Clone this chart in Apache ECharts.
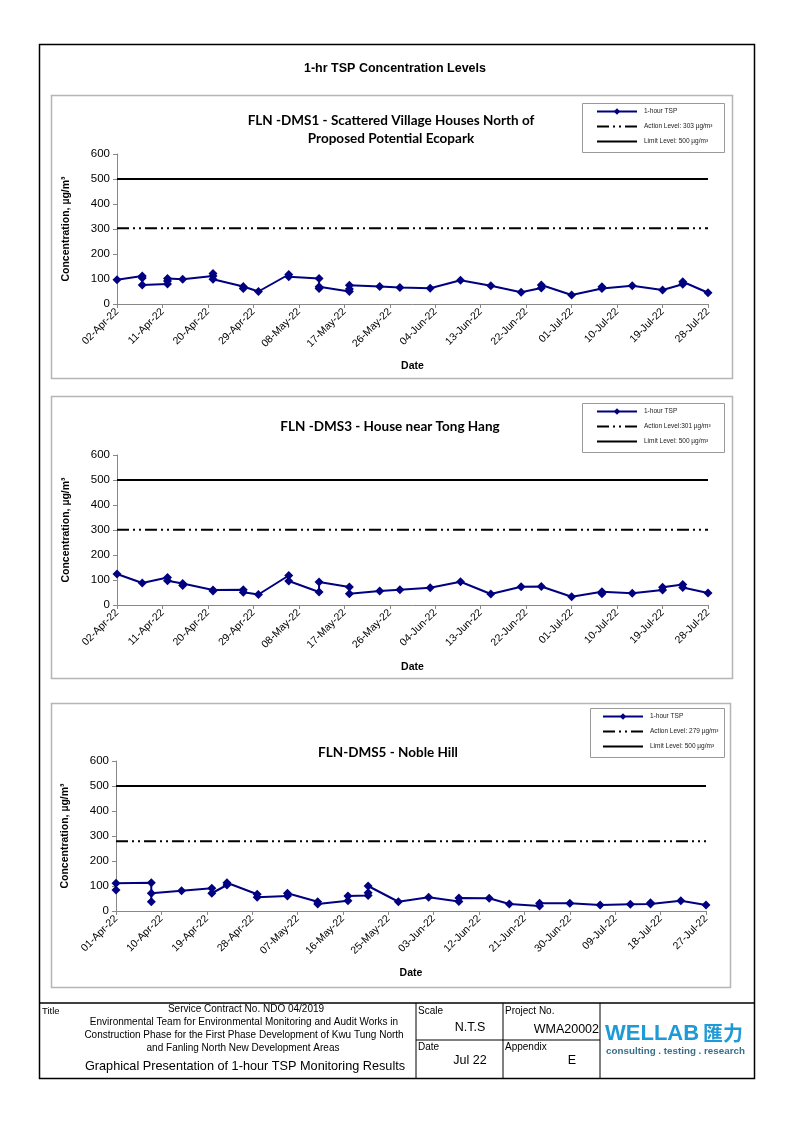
<!DOCTYPE html>
<html><head><meta charset="utf-8">
<script src="https://cdn.jsdelivr.net/npm/echarts@6/dist/echarts.min.js"></script>
<style>html,body{margin:0;padding:0;background:#fff}#c{width:794px;height:1123px}</style>
</head><body><div id="c"></div><script>
// ---- tick labels ----
const ticksA = ['02-Apr-22','11-Apr-22','20-Apr-22','29-Apr-22','08-May-22','17-May-22','26-May-22','04-Jun-22','13-Jun-22','22-Jun-22','01-Jul-22','10-Jul-22','19-Jul-22','28-Jul-22'];
const ticksB = ['01-Apr-22','10-Apr-22','19-Apr-22','28-Apr-22','07-May-22','16-May-22','25-May-22','03-Jun-22','12-Jun-22','21-Jun-22','30-Jun-22','09-Jul-22','18-Jul-22','27-Jul-22'];
const yTicks = [0,100,200,300,400,500,600];

// ---- FLN-DMS1 ----
const dms1Dates = ['2022-04-02','2022-04-07','2022-04-07','2022-04-07','2022-04-12','2022-04-12','2022-04-12','2022-04-15','2022-04-21','2022-04-21','2022-04-21','2022-04-27','2022-04-27','2022-04-30','2022-05-06','2022-05-06','2022-05-12','2022-05-12','2022-05-12','2022-05-18','2022-05-18','2022-05-18','2022-05-24','2022-05-28','2022-06-03','2022-06-09','2022-06-15','2022-06-21','2022-06-25','2022-06-25','2022-07-01','2022-07-07','2022-07-07','2022-07-13','2022-07-19','2022-07-23','2022-07-23','2022-07-28'];
const dms1Values = [97,112,104,76,80,92,102,99,112,122,99,70,62,50,118,109,102,69,62,50,60,75,70,66,63,95,73,47,64,76,36,62,69,73,56,79,89,45];
const dms1Action = 303;

// ---- FLN-DMS3 ----
const dms3Dates = ['2022-04-02','2022-04-07','2022-04-12','2022-04-12','2022-04-15','2022-04-15','2022-04-21','2022-04-21','2022-04-27','2022-04-27','2022-04-30','2022-05-06','2022-05-06','2022-05-12','2022-05-12','2022-05-18','2022-05-18','2022-05-24','2022-05-28','2022-06-03','2022-06-09','2022-06-15','2022-06-21','2022-06-25','2022-07-01','2022-07-07','2022-07-07','2022-07-13','2022-07-19','2022-07-19','2022-07-23','2022-07-23','2022-07-28'];
const dms3Values = [124,88,110,97,86,78,60,56,61,51,42,118,96,52,92,72,45,56,61,69,93,44,73,74,33,53,45,47,60,71,82,70,48];
const dms3Action = 301;

// ---- FLN-DMS5 ----
const dms5Dates = ['2022-04-01','2022-04-01','2022-04-08','2022-04-08','2022-04-08','2022-04-14','2022-04-20','2022-04-20','2022-04-23','2022-04-23','2022-04-29','2022-04-29','2022-05-05','2022-05-05','2022-05-11','2022-05-11','2022-05-17','2022-05-17','2022-05-21','2022-05-21','2022-05-21','2022-05-27','2022-06-02','2022-06-08','2022-06-08','2022-06-14','2022-06-18','2022-06-24','2022-06-24','2022-06-30','2022-07-06','2022-07-12','2022-07-16','2022-07-16','2022-07-22','2022-07-27'];
const dms5Values = [84,111,113,37,71,81,91,71,104,113,67,55,60,71,37,28,41,60,62,73,100,37,55,38,52,51,28,20,31,31,24,27,28,33,41,24];
const dms5Action = 279;

const limitLevel = 500;

function dayOffset(d, start){ return Math.round((Date.parse(d) - Date.parse(start)) / 86400000); }
function pairs(dates, vals, start){ return dates.map((d,i)=>[dayOffset(d,start), vals[i]]); }

const NAVY = '#000080';
const FONT = 'Liberation Sans, Arial, sans-serif';
const NARROW = 'Liberation Sans Narrow, Liberation Sans, Arial, sans-serif';
const TITLEFONT = 'Lato, Carlito, Calibri, sans-serif';

const charts = [
  {top:154, left:117, width:591, ticks:ticksA, start:'2022-04-02', dates:dms1Dates, vals:dms1Values, action:dms1Action, actionName:'Action Level: 303 µg/m³', legendLeft:596, legendTop:108},
  {top:455, left:117, width:591, ticks:ticksA, start:'2022-04-02', dates:dms3Dates, vals:dms3Values, action:dms3Action, actionName:'Action Level:301 µg/m³', legendLeft:596, legendTop:408},
  {top:761, left:116, width:590, ticks:ticksB, start:'2022-04-01', dates:dms5Dates, vals:dms5Values, action:dms5Action, actionName:'Action Level: 279 µg/m³', legendLeft:602, legendTop:713}
];

const grid=[], xAxis=[], yAxis=[], series=[], legend=[];
charts.forEach((c,i)=>{
  grid.push({left:c.left, top:c.top, width:c.width, height:150});
  const maxDay = (c.ticks.length-1)*9;
  xAxis.push({type:'value', gridIndex:i, min:0, max:maxDay, interval:9,
    name:'Date', nameLocation:'middle', nameGap:57,
    nameTextStyle:{fontFamily:FONT, fontWeight:'bold', fontSize:10.5, color:'#000'},
    axisLine:{show:true, lineStyle:{color:'#888', width:1}},
    axisTick:{show:true, length:4, lineStyle:{color:'#888'}},
    splitLine:{show:false},
    axisLabel:{rotate:45, fontSize:10.5, fontFamily:FONT, color:'#000', margin:6,
      formatter:(v)=>c.ticks[Math.round(v/9)]||''}});
  yAxis.push({type:'value', gridIndex:i, min:yTicks[0], max:yTicks[yTicks.length-1], interval:100,
    name:'Concentration, µg/m³', nameLocation:'middle', nameGap:45, nameRotate:90,
    nameTextStyle:{fontFamily:FONT, fontWeight:'bold', fontSize:10.5, color:'#000'},
    axisLine:{show:true, lineStyle:{color:'#888', width:1}},
    axisTick:{show:true, length:4, lineStyle:{color:'#888'}},
    splitLine:{show:false},
    axisLabel:{fontSize:11.5, fontFamily:FONT, color:'#000', margin:7}});
  series.push({name:'1-hour TSP', type:'line', xAxisIndex:i, yAxisIndex:i,
    data:pairs(c.dates, c.vals, c.start), symbol:'diamond', symbolSize:9,
    itemStyle:{color:NAVY}, lineStyle:{color:NAVY, width:2}, z:5, clip:false, animation:false});
  series.push({name:c.actionName, type:'line', xAxisIndex:i, yAxisIndex:i,
    data:[[0,c.action],[maxDay,c.action]], symbol:'none',
    itemStyle:{color:'#000'}, lineStyle:{color:'#000', width:2, type:[12,4,2,4,2,4]}, animation:false});
  series.push({name:'Limit Level: 500 µg/m³', type:'line', xAxisIndex:i, yAxisIndex:i,
    data:[[0,limitLevel],[maxDay,limitLevel]], symbol:'none',
    itemStyle:{color:'#000'}, lineStyle:{color:'#000', width:2}, animation:false});
  legend.push({orient:'vertical', left:c.legendLeft, top:c.legendTop, itemWidth:40, itemHeight:8, itemGap:8,
    padding:0, selectedMode:false,
    data:['1-hour TSP', {name:c.actionName, itemStyle:{opacity:0}}, {name:'Limit Level: 500 µg/m³', itemStyle:{opacity:0}}],
    textStyle:{fontSize:6.5, fontFamily:FONT, color:'#222', padding:[0,0,0,2]}});
});

function rect(x,y,w,h,stroke,lw){ return {type:'rect', silent:true, shape:{x:x,y:y,width:w,height:h}, style:{fill:'none', stroke:stroke, lineWidth:lw}}; }
function line(x1,y1,x2,y2,lw){ return {type:'line', silent:true, shape:{x1:x1,y1:y1,x2:x2,y2:y2}, style:{stroke:'#000', lineWidth:lw||1}}; }
function text(t,x,y,opt){ return {type:'text', silent:true, style:Object.assign({text:t, x:x, y:y, fill:'#000', font:'10px '+FONT, textAlign:'left', textVerticalAlign:'middle'}, opt||{})}; }

const graphic = [
  rect(39.5,44.5,715,1034,'#000',1.5),
  rect(51.5,95.5,681,283,'#b5b5b5',1.5),
  rect(51.5,396.5,681,282,'#b5b5b5',1.5),
  rect(51.5,703.5,679,284,'#b5b5b5',1.5),
  rect(582.5,103.5,142,49,'#999',1),
  rect(582.5,403.5,142,49,'#999',1),
  rect(590.5,708.5,134,49,'#999',1),
  text('1-hr TSP Concentration Levels',395,69,{font:'bold 12.5px '+FONT, textAlign:'center'}),
  text('FLN -DMS1 - Scattered Village Houses North of',391,121,{font:'bold 13.5px '+TITLEFONT, textAlign:'center'}),
  text('Proposed Potential Ecopark',391,139,{font:'bold 13.5px '+TITLEFONT, textAlign:'center'}),
  text('FLN -DMS3 - House near Tong Hang',390,427,{font:'bold 13.5px '+TITLEFONT, textAlign:'center'}),
  text('FLN-DMS5 - Noble Hill',388,753,{font:'bold 13.5px '+TITLEFONT, textAlign:'center'}),
  // table
  line(39,1003,754,1003,1.5),
  line(416,1003,416,1078,1),
  line(503,1003,503,1078,1),
  line(600,1003,600,1078,1),
  line(416,1040,600,1040,1),
  text('Title',42,1011,{font:'9.5px '+NARROW}),
  text('Service Contract No. NDO 04/2019',246,1009,{font:'10px '+NARROW, textAlign:'center'}),
  text('Environmental Team for Environmental Monitoring and Audit Works in',244,1022,{font:'10px '+NARROW, textAlign:'center'}),
  text('Construction Phase for the First Phase Development of Kwu Tung North',244,1035,{font:'10px '+NARROW, textAlign:'center'}),
  text('and Fanling North New Development Areas',243,1048,{font:'10px '+NARROW, textAlign:'center'}),
  text('Graphical Presentation of 1-hour TSP Monitoring Results',245,1066,{font:'12.7px '+NARROW, textAlign:'center'}),
  text('Scale',418,1011,{font:'10px '+NARROW}),
  text('N.T.S',470,1028,{font:'12.5px '+NARROW, textAlign:'center'}),
  text('Date',418,1047,{font:'10px '+NARROW}),
  text('Jul 22',470,1061,{font:'12.5px '+NARROW, textAlign:'center'}),
  text('Project No.',505,1011,{font:'10px '+NARROW}),
  text('WMA20002',599,1030,{font:'12.5px '+NARROW, textAlign:'right'}),
  text('Appendix',505,1047,{font:'10px '+NARROW}),
  text('E',572,1061,{font:'12.5px '+NARROW, textAlign:'center'}),
  text('WELLAB',605,1034,{font:'bold 22px '+FONT, fill:'#1e9ad6'}),
  text('匯力',703,1033,{font:'bold 20px Noto Sans CJK TC, sans-serif', fill:'#1e9ad6'}),
  text('consulting . testing . research',675.5,1051,{font:'bold 9.8px '+FONT, fill:'#3a6f8c', textAlign:'center'})
];

const chart = echarts.init(document.getElementById('c'), null, {renderer:'canvas'});
chart.setOption({animation:false, backgroundColor:'#fff', grid, xAxis, yAxis, series, legend, graphic});
</script></body></html>
